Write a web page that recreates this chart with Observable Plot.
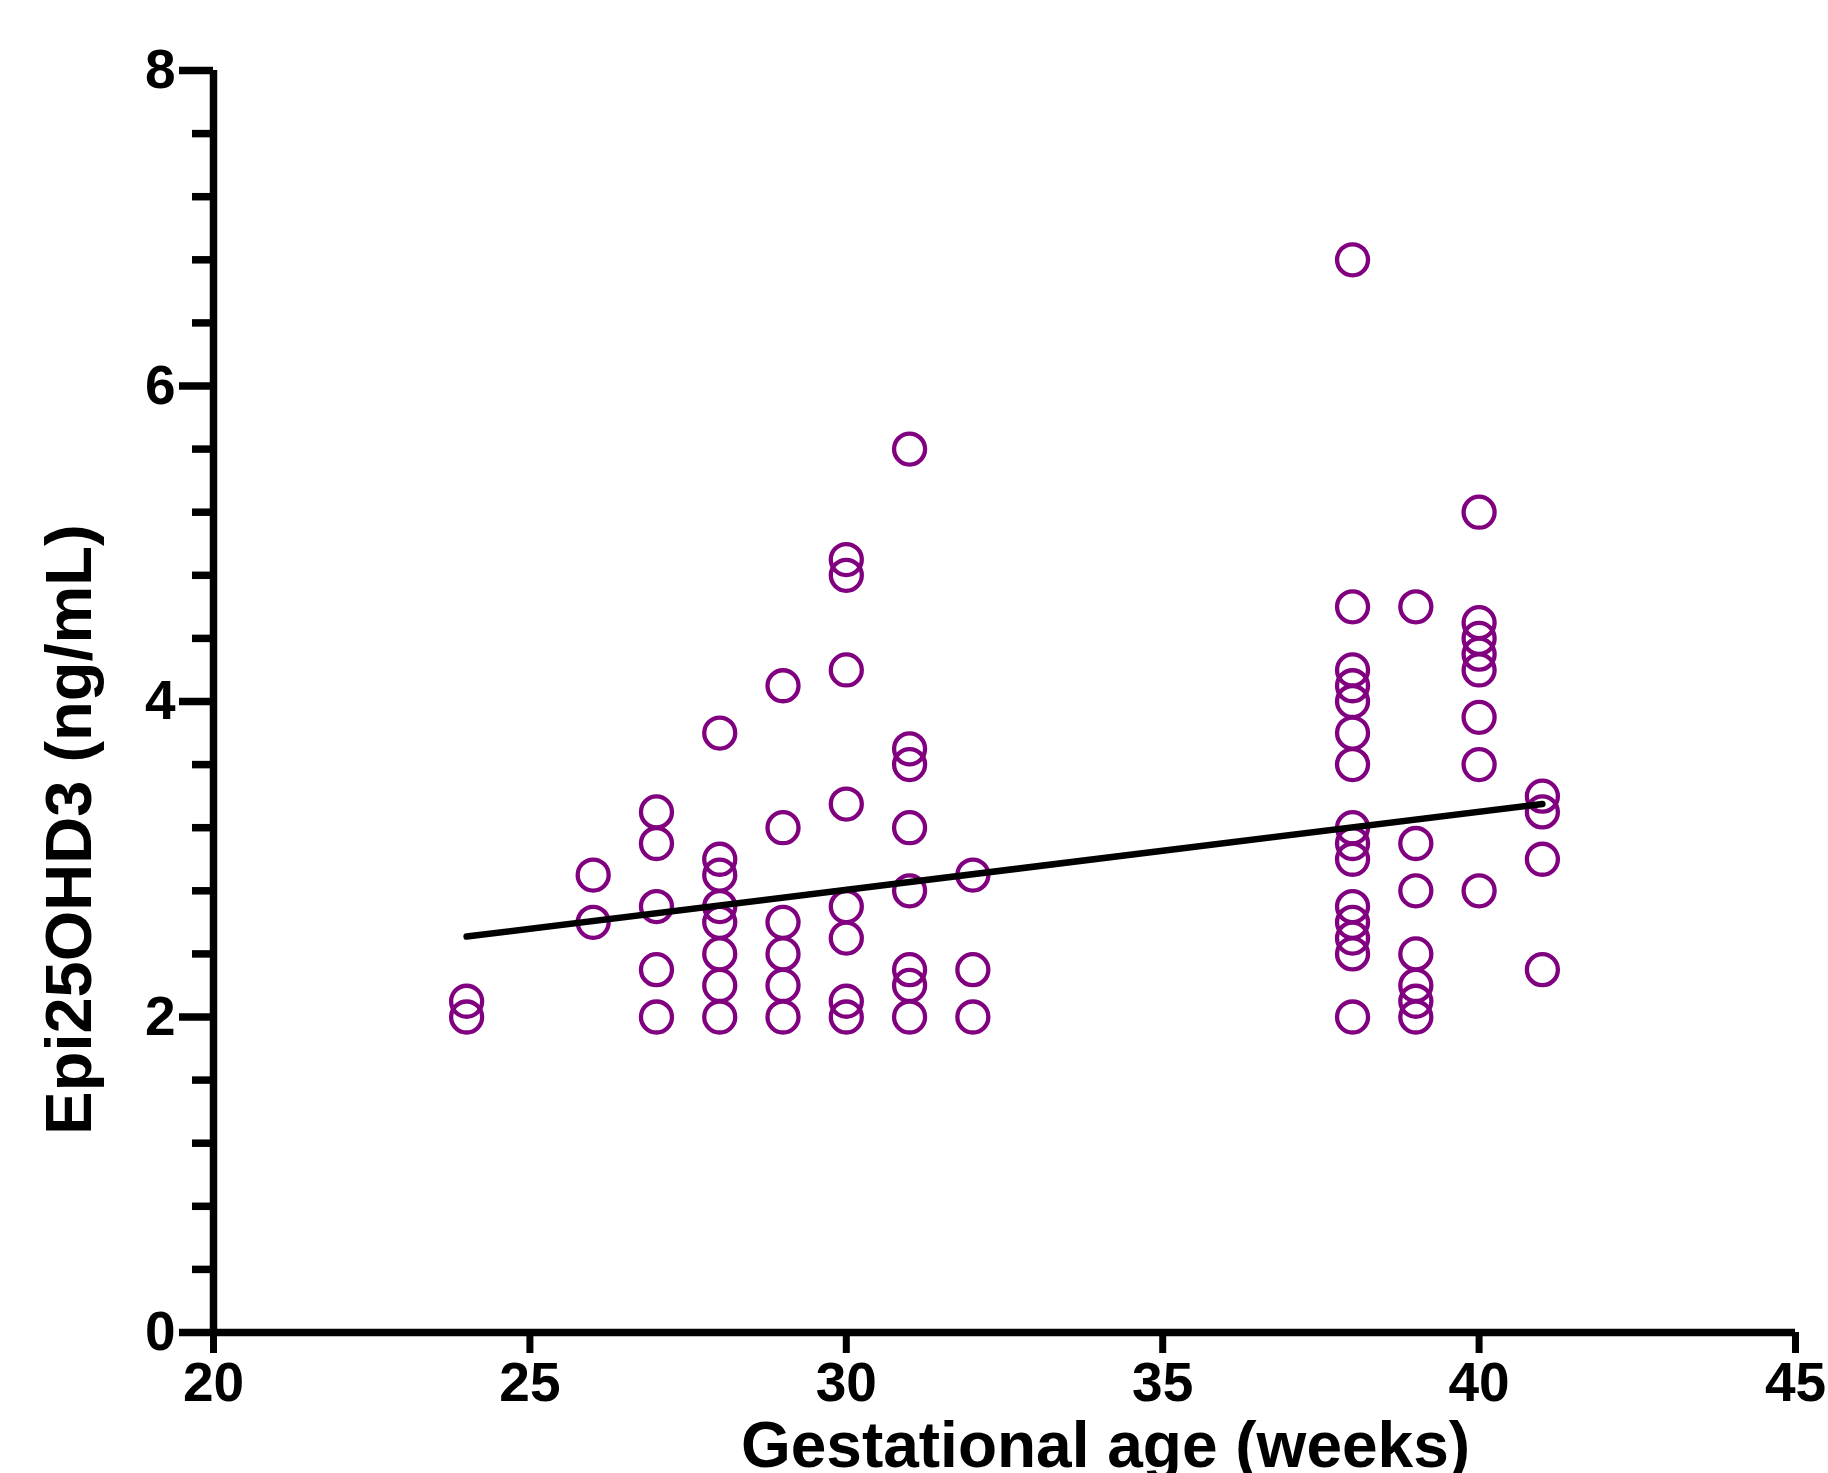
<!DOCTYPE html>
<html>
<head>
<meta charset="utf-8">
<script src="https://cdn.jsdelivr.net/npm/d3@7"></script>
<script src="https://cdn.jsdelivr.net/npm/@observablehq/plot@0.6"></script>
<style>
  html, body { margin: 0; padding: 0; background: #fff; }
</style>
</head>
<body>
<div id="chart"></div>
<script>
// Gestational age (weeks) for each column of points
const ages = [24, 26, 27, 28, 29, 30, 31, 32, 38, 39, 40, 41];
// Epi25OHD3 values (ng/mL) per age column
const values = [
  [2.1, 2.0],
  [2.9, 2.6],
  [3.3, 3.1, 2.7, 2.3, 2.0],
  [3.8, 3.0, 2.9, 2.7, 2.6, 2.4, 2.2, 2.0],
  [4.1, 3.2, 2.6, 2.4, 2.2, 2.0],
  [4.9, 4.8, 4.2, 3.35, 2.7, 2.5, 2.1, 2.0],
  [5.6, 3.7, 3.6, 3.2, 2.8, 2.3, 2.2, 2.0],
  [2.9, 2.3, 2.0],
  [6.8, 4.6, 4.2, 4.1, 4.0, 3.8, 3.6, 3.2, 3.1, 3.0, 2.7, 2.6, 2.5, 2.4, 2.0],
  [4.6, 3.1, 2.8, 2.4, 2.2, 2.1, 2.0],
  [5.2, 4.5, 4.4, 4.3, 4.2, 3.9, 3.6, 2.8],
  [3.4, 3.3, 3.0, 2.3]
];
// Fitted line as shown in the figure (read at its two ends)
const fitAges = [24, 41];
const fitValues = [2.51, 3.35];
const xTicks = [20, 25, 30, 35, 40, 45];
const yMajorTicks = [0, 2, 4, 6, 8];
const yMinorTicks = [0.4, 0.8, 1.2, 1.6, 2.4, 2.8, 3.2, 3.6, 4.4, 4.8, 5.2, 5.6, 6.4, 6.8, 7.2, 7.6];
const xTitle = "Gestational age (weeks)";
const yTitle = "Epi25OHD3 (ng/mL)";

const points = ages.flatMap((a, i) => values[i].map(v => ({age: a, value: v})));
const fit = fitAges.map((a, i) => ({age: a, value: fitValues[i]}));

const font = "'Liberation Sans', Arial, Helvetica, sans-serif";
const purple = "#800080";

const chart = Plot.plot({
  width: 1828,
  height: 1473,
  marginLeft: 213,
  marginRight: 33,
  marginTop: 70,
  marginBottom: 141,
  style: {fontFamily: font, fontWeight: "bold", color: "#000", background: "#fff"},
  x: {domain: [20, 45]},
  y: {domain: [0, 8]},
  marks: [
    Plot.axisY({ticks: yMinorTicks, tickSize: 21, tickFormat: () => "", strokeWidth: 7.5, label: null}),
    Plot.axisY({ticks: yMajorTicks, tickSize: 34, tickPadding: 4, tickFormat: d => String(d),
      fontSize: 55, fontWeight: "bold", strokeWidth: 7.5, label: null}),
    Plot.axisX({ticks: xTicks, tickSize: 21, tickPadding: 8, tickFormat: d => String(d),
      fontSize: 55, fontWeight: "bold", strokeWidth: 7, label: null}),
    Plot.ruleX([20], {y1: 0, y2: 8, strokeWidth: 7.5, stroke: "#000"}),
    Plot.ruleY([0], {x1: 20, x2: 45, strokeWidth: 7.5, stroke: "#000"}),
    Plot.dot(points, {x: "age", y: "value", r: 15.5, stroke: purple, strokeWidth: 4.3, fill: "none"}),
    Plot.line(fit, {x: "age", y: "value", stroke: "#000", strokeWidth: 6.5, strokeLinecap: "round"}),
    Plot.text([xTitle], {frameAnchor: "bottom", textAnchor: "middle", lineAnchor: "bottom",
      dx: 101, dy: 134, fontSize: 64, fontWeight: "bold", fill: "#000"}),
    Plot.text([yTitle], {frameAnchor: "left", textAnchor: "middle", lineAnchor: "bottom", rotate: -90,
      dx: -123, dy: 128, fontSize: 65, fontWeight: "bold", fill: "#000"})
  ]
});
document.getElementById("chart").appendChild(chart);
</script>
</body>
</html>
